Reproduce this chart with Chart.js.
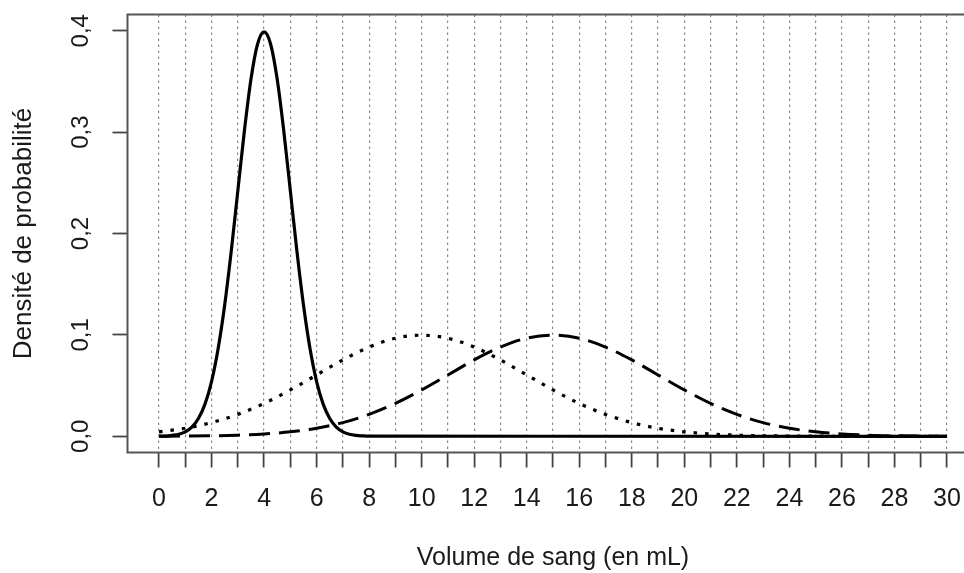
<!DOCTYPE html>
<html>
<head>
<meta charset="utf-8">
<script src="https://cdn.jsdelivr.net/npm/chart.js"></script>
<style>
html, body { margin: 0; padding: 0; background: #fff; overflow: hidden; width: 964px; height: 573px; }
#wrap { position: absolute; left: 0; top: 0; width: 990px; height: 573px; }
</style>
</head>
<body>
<div id="wrap"><canvas id="chart1" width="990" height="573"></canvas></div>
<script>
// axis ticks
var xTicks = [0,1,2,3,4,5,6,7,8,9,10,11,12,13,14,15,16,17,18,19,20,21,22,23,24,25,26,27,28,29,30];
var xTickLabels = ['0','','2','','4','','6','','8','','10','','12','','14','','16','','18','','20','','22','','24','','26','','28','','30'];
var yTicks = [0, 0.1, 0.2, 0.3, 0.4];
var yTickLabels = ['0,0', '0,1', '0,2', '0,3', '0,4'];

// solid curve (peak at 4)
var volumeFine = [0,0.25,0.5,0.75,1,1.25,1.5,1.75,2,2.25,2.5,2.75,3,3.25,3.5,3.75,4,4.25,4.5,4.75,5,5.25,5.5,5.75,6,6.25,6.5,6.75,7,7.25,7.5,7.75,8,30];
var densitySolid = [0.0001,0.0002,0.0009,0.002,0.0044,0.0091,0.0175,0.0317,0.054,0.0863,0.1295,0.1826,0.242,0.3011,0.3521,0.3867,0.3989,0.3867,0.3521,0.3011,0.242,0.1826,0.1295,0.0863,0.054,0.0317,0.0175,0.0091,0.0044,0.002,0.0009,0.0004,0.0001,0];

// dotted (peak at 10) and dashed (peak at 15) curves
var volume = [0,1,2,3,4,5,6,7,8,9,10,11,12,13,14,15,16,17,18,19,20,21,22,23,24,25,26,27,28,29,30];
var densityDotted = [0.0044,0.0079,0.0135,0.0216,0.0324,0.0457,0.0605,0.0753,0.088,0.0967,0.0997,0.0967,0.088,0.0753,0.0605,0.0457,0.0324,0.0216,0.0135,0.0079,0.0044,0.0023,0.0011,0.0005,0.0002,0.0001,0,0,0,0,0];
var densityDashed = [0.0001,0.0002,0.0005,0.0011,0.0023,0.0044,0.0079,0.0135,0.0216,0.0324,0.0457,0.0605,0.0753,0.088,0.0967,0.0997,0.0967,0.088,0.0753,0.0605,0.0457,0.0324,0.0216,0.0135,0.0079,0.0044,0.0023,0.0011,0.0005,0.0002,0.0001];

function toPoints(xs, ys) {
    return xs.map((x, i) => ({ x: x, y: ys[i] }));
}

const fontFamily = "'Liberation Sans', Arial, sans-serif";
const textColor = '#1a1a1a';

const boxPlugin = {
    id: 'box',
    beforeDatasetsDraw(chart) {
        const a = chart.chartArea;
        const ctx = chart.ctx;
        ctx.save();
        ctx.strokeStyle = '#555';
        ctx.lineWidth = 2;
        ctx.strokeRect(a.left, a.top, a.right - a.left, a.bottom - a.top);
        ctx.restore();
    }
};

new Chart(document.getElementById('chart1'), {
    type: 'line',
    data: {
        datasets: [
            {
                data: toPoints(volumeFine, densitySolid),
                borderColor: '#000',
                borderWidth: 3.2,
                pointRadius: 0,
                cubicInterpolationMode: 'monotone'
            },
            {
                data: toPoints(volume, densityDotted),
                borderColor: '#000',
                borderWidth: 3.2,
                borderDash: [3.5, 8],
                pointRadius: 0,
                cubicInterpolationMode: 'monotone'
            },
            {
                data: toPoints(volume, densityDashed),
                borderColor: '#000',
                borderWidth: 3,
                borderDash: [21, 9],
                pointRadius: 0,
                cubicInterpolationMode: 'monotone'
            }
        ]
    },
    options: {
        responsive: false,
        animation: false,
        layout: { padding: { top: 14.5, right: 11.5, left: 0, bottom: 0 } },
        plugins: { legend: { display: false }, tooltip: { enabled: false } },
        scales: {
            x: {
                type: 'linear',
                min: -1.2,
                max: 31.2,
                afterBuildTicks: (s) => { s.ticks = xTicks.map(v => ({ value: v })); },
                afterFit: (s) => { s.height = 120.5; s.paddingLeft = 0; s.paddingRight = 0; },
                ticks: {
                    autoSkip: false,
                    maxRotation: 0,
                    minRotation: 0,
                    padding: 17,
                    color: textColor,
                    font: { family: fontFamily, size: 25 },
                    callback: (v, i) => xTickLabels[i]
                },
                grid: { color: '#8a8a8a', lineWidth: 1.2, tickLength: 15, tickColor: '#444', tickWidth: 1.8 },
                border: { display: false, dash: [2.5, 3.5] },
                title: {
                    display: true,
                    text: 'Volume de sang (en mL)',
                    color: textColor,
                    font: { family: fontFamily, size: 25 },
                    padding: { top: 0, bottom: 0 }
                }
            },
            y: {
                min: -0.016,
                max: 0.416,
                afterBuildTicks: (s) => { s.ticks = yTicks.map(v => ({ value: v })); },
                afterFit: (s) => { s.width = 127.5; s.paddingTop = 0; s.paddingBottom = 0; },
                ticks: {
                    minRotation: 90,
                    maxRotation: 90,
                    crossAlign: 'center',
                    padding: 14,
                    color: textColor,
                    font: { family: fontFamily, size: 24 },
                    callback: (v, i) => yTickLabels[i]
                },
                grid: { drawOnChartArea: false, tickLength: 15, tickColor: '#444', tickWidth: 1.8 },
                border: { display: false },
                title: {
                    display: true,
                    text: 'Densité de probabilité',
                    color: textColor,
                    font: { family: fontFamily, size: 26 },
                    padding: { top: 8, bottom: 0 }
                }
            }
        }
    },
    plugins: [boxPlugin]
});
</script>
</body>
</html>
